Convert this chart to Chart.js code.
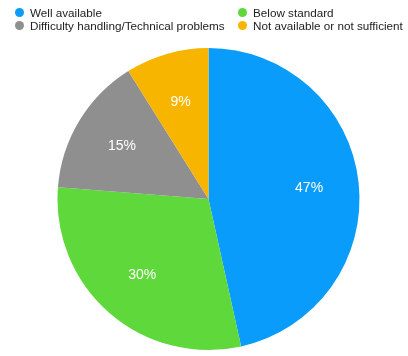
<!DOCTYPE html>
<html>
<head>
<meta charset="utf-8">
<script src="https://cdn.jsdelivr.net/npm/chart.js@4"></script>
<style>
    body { margin: 0; background: #fff; font-family: "Liberation Sans", Arial, sans-serif; }
    #wrap { position: relative; width: 408px; height: 356px; }
    #legend {
        position: absolute; left: 15px; top: 6px;
        display: grid; grid-template-columns: 223px auto;
        font-size: 11.7px; color: #222; white-space: nowrap;
    }
    .item { display: flex; align-items: center; height: 13px; }
    .dot { width: 9px; height: 9px; border-radius: 50%; margin-right: 6px; }
</style>
</head>
<body>
<div id="wrap">
    <div id="legend"></div>
    <canvas id="pieChart" width="408" height="356"></canvas>
</div>
<script>
// Answer shares, in percent
const categories = ['Well available', 'Below standard', 'Difficulty handling/Technical problems', 'Not available or not sufficient'];
const shares = [47, 30, 15, 9];
const colors = ['#0a9cfb', '#5fd83b', '#8f8f8f', '#f7b500'];

// legend as two columns
var legend = document.getElementById('legend');
categories.forEach(function (name, i) {
    var item = document.createElement('div');
    item.className = 'item';
    item.innerHTML = '<span class="dot" style="background:' + colors[i] + '"></span>' + name;
    legend.appendChild(item);
});

// white percentage labels inside each slice
const sliceLabels = {
    id: 'sliceLabels',
    afterDatasetsDraw(chart) {
        const ctx = chart.ctx;
        const meta = chart.getDatasetMeta(0);
        ctx.save();
        ctx.fillStyle = '#fff';
        ctx.font = '14px "Liberation Sans", Arial, sans-serif';
        ctx.textAlign = 'center';
        ctx.textBaseline = 'middle';
        meta.data.forEach(function (arc, i) {
            const mid = (arc.startAngle + arc.endAngle) / 2;
            const r = arc.outerRadius * 0.67;
            ctx.fillText(shares[i] + '%', arc.x + Math.cos(mid) * r, arc.y + Math.sin(mid) * r);
        });
        ctx.restore();
    }
};

new Chart(document.getElementById('pieChart'), {
    type: 'pie',
    data: {
        labels: categories,
        datasets: [{
            data: shares,
            backgroundColor: colors,
            borderWidth: 0
        }]
    },
    options: {
        responsive: false,
        animation: false,
        layout: { padding: { left: 57, right: 48, top: 48, bottom: 6 } },
        plugins: {
            legend: { display: false },
            tooltip: { enabled: false }
        }
    },
    plugins: [sliceLabels]
});
</script>
</body>
</html>
